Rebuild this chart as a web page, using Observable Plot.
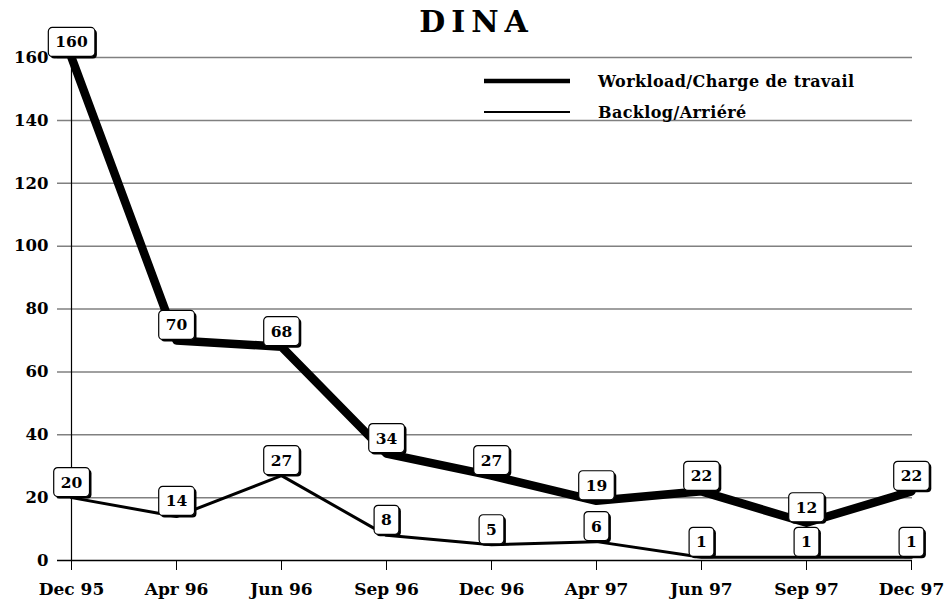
<!DOCTYPE html>
<html>
<head>
<meta charset="utf-8">
<script src="https://cdn.jsdelivr.net/npm/d3@7"></script>
<script src="https://cdn.jsdelivr.net/npm/@observablehq/plot@0.6"></script>
<style>
  html, body { margin: 0; padding: 0; background: #fff; }
  #wrap { position: relative; width: 947px; height: 606px; font-family: "DejaVu Serif", serif; }
  #chart { position: absolute; left: 0; top: 0; }
  #title { position: absolute; left: 0; top: 0; width: 947px; text-align: center; font-weight: bold; font-size: 30px; letter-spacing: 6px; line-height: 44px; padding-left: 6px; box-sizing: border-box; }
  #legend { position: absolute; left: 0; top: 0; }
  g[aria-label="x-axis"] text, g[aria-label="x-axis tick label"] text { font-size: 17px; }
</style>
</head>
<body>
<div id="wrap">
  <div id="chart"></div>
  <div id="title">DINA</div>
  <svg id="legend" width="947" height="140" style="pointer-events:none">
    <line x1="484" x2="570" y1="81" y2="81" stroke="black" stroke-width="4.5"></line>
    <line x1="484" x2="570" y1="112" y2="112" stroke="black" stroke-width="2"></line>
    <text id="lg1" x="598" y="87" font-family="DejaVu Serif" font-weight="bold" font-size="16" letter-spacing="0.4"></text>
    <text id="lg2" x="598" y="118" font-family="DejaVu Serif" font-weight="bold" font-size="16" letter-spacing="0.4"></text>
  </svg>
</div>
<script>
const months = ["Dec 95", "Apr 96", "Jun 96", "Sep 96", "Dec 96", "Apr 97", "Jun 97", "Sep 97", "Dec 97"];
const workload = [160, 70, 68, 34, 27, 19, 22, 12, 22];
const backlog = [20, 14, 27, 8, 5, 6, 1, 1, 1];
const seriesNames = ["Workload/Charge de travail", "Backlog/Arriéré"];
const yTicks = [0, 20, 40, 60, 80, 100, 120, 140, 160];

document.getElementById("lg1").textContent = seriesNames[0];
document.getElementById("lg2").textContent = seriesNames[1];

const rowsW = months.map((m, i) => ({month: m, value: workload[i]}));
const rowsB = months.map((m, i) => ({month: m, value: backlog[i]}));

const chart = Plot.plot({
  width: 947,
  height: 606,
  marginLeft: 70,
  marginRight: 35,
  marginTop: 57,
  marginBottom: 46,
  style: {fontFamily: "DejaVu Serif", fontWeight: "bold", fontSize: "16.5px", color: "black", background: "white"},
  x: {type: "point", domain: months, padding: 0, tickSize: 10, tickPadding: 12, label: null},
  y: {domain: [0, 160], ticks: yTicks, tickSize: 0, tickPadding: 22, label: null},
  marks: [
    Plot.ruleY(yTicks.filter(d => d > 0), {stroke: "#808080", strokeWidth: 1.5, insetLeft: -13}),
    Plot.ruleY([0], {stroke: "black", strokeWidth: 1.5, insetLeft: -13}),
    Plot.ruleX([months[0]], {stroke: "black", strokeWidth: 1.2}),
    Plot.line(rowsW, {x: "month", y: "value", stroke: "black", strokeWidth: 8.5}),
    Plot.line(rowsB, {x: "month", y: "value", stroke: "black", strokeWidth: 3}),
    Plot.text(rowsW, {x: "month", y: "value", text: d => String(d.value), dy: -15, fontSize: 15.5, fontWeight: "bold", fill: "black", ariaDescription: "labels"}),
    Plot.text(rowsB, {x: "month", y: "value", text: d => String(d.value), dy: -15, fontSize: 15.5, fontWeight: "bold", fill: "black", ariaDescription: "labels"})
  ]
});
document.getElementById("chart").appendChild(chart);

// Rounded, shadowed boxes behind each data label (sized from the rendered text)
chart.querySelectorAll('g[aria-description="labels"] text').forEach(t => {
  const b = t.getBBox();
  const padX = 7, padY = 5;
  const tr = t.getAttribute("transform");
  const ns = "http://www.w3.org/2000/svg";
  const sh = document.createElementNS(ns, "rect");
  const bx = document.createElementNS(ns, "rect");
  [[sh, 2], [bx, 0]].forEach(([r, off]) => {
    r.setAttribute("x", b.x - padX + off);
    r.setAttribute("y", b.y - padY + off);
    r.setAttribute("width", b.width + 2 * padX);
    r.setAttribute("height", b.height + 2 * padY);
    r.setAttribute("rx", 4);
    if (tr) r.setAttribute("transform", tr);
  });
  sh.setAttribute("fill", "black");
  bx.setAttribute("fill", "white");
  bx.setAttribute("stroke", "black");
  bx.setAttribute("stroke-width", 1.2);
  t.parentNode.insertBefore(sh, t);
  t.parentNode.insertBefore(bx, t);
});
</script>
</body>
</html>
